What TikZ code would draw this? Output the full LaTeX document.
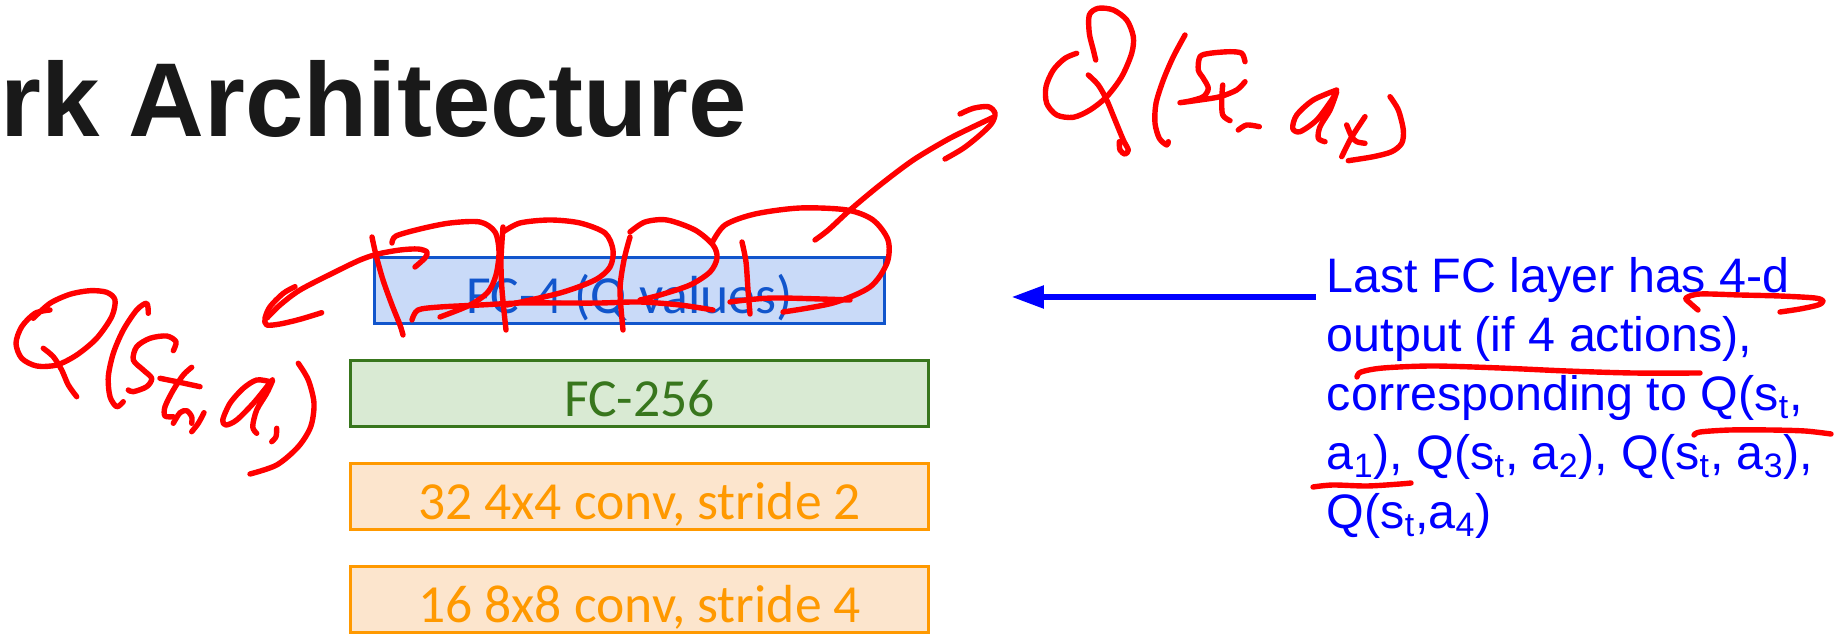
\documentclass[tikz,border=0pt]{standalone}
\usepackage{fontspec}
\setmainfont{Liberation Sans}
\newfontfamily\slidefont{Carlito}
\usepackage{tikz}
\usepackage{xcolor}
\usetikzlibrary{arrows.meta, positioning}
\definecolor{FCBlue}{HTML}{1155CC}
\definecolor{FCBlueFill}{HTML}{C9DAF8}
\definecolor{FCGreen}{HTML}{38761D}
\definecolor{FCGreenFill}{HTML}{D9EAD3}
\definecolor{ConvOrange}{HTML}{FF9900}
\definecolor{ConvOrangeFill}{HTML}{FCE5CD}
\definecolor{NoteBlue}{HTML}{0000FF}
\definecolor{InkRed}{HTML}{FF0000}
\newcommand{\lsub}[1]{\textsubscript{#1}}

\begin{document}
\begin{tikzpicture}[x=0.5pt, y=-0.5pt, node distance=51.5pt, on grid,
    layer/.style={rectangle, draw, line width=1.3pt, minimum width=289pt, minimum height=33pt, inner sep=0pt, text height=23pt, text depth=0pt, font=\slidefont\fontsize{26.8pt}{30pt}\selectfont},
    ink/.style={draw=InkRed, line width=2.7pt, line cap=round, line join=round},
    pointer/.style={draw=NoteBlue, line width=2.6pt, -{Triangle[length=16pt, width=11pt]}}]

        \useasboundingbox (0,0) rectangle (1845,635);

        \node[anchor=base west, inner sep=0pt, text=black!90, font=\bfseries\fontsize{52.5pt}{60pt}\selectfont] (title) at (0,137) {rk Architecture};

        \node[layer, draw=ConvOrange, fill=ConvOrangeFill, text=ConvOrange] (conv16) at (639.5,599.5) {16 8x8 conv, stride 4};

        \node[layer, draw=ConvOrange, fill=ConvOrangeFill, text=ConvOrange, above=of conv16] (conv32) {32 4x4 conv, stride 2};

        \node[layer, draw=FCGreen, fill=FCGreenFill, text=FCGreen, above=of conv32] (fc256) {FC-256};

        \node[layer, draw=FCBlue, fill=FCBlueFill, text=FCBlue, minimum width=255pt, above=of fc256, xshift=-5pt] (fc4) {FC-4 (Q values)};

        \node[anchor=north west, align=left, inner sep=0pt, text=NoteBlue, font=\fontsize{24.2pt}{29.5pt}\selectfont] (note) at (1326.5,257.3) {Last FC layer has 4-d\\
            output (if 4 actions),\\
            corresponding to Q(s\lsub{t},\\
            a\lsub{1}), Q(s\lsub{t}, a\lsub{2}), Q(s\lsub{t}, a\lsub{3}),\\
            Q(s\lsub{t},a\lsub{4})};

        \coordinate (tail) at ([xshift=-5.25pt, yshift=-19.85pt]note.north west);
        \coordinate (head) at ([xshift=63pt]fc4.east);

        \draw[pointer] (tail) -- (tail -| head);

        % Q(s_t, a_4)
        \draw[ink] plot[smooth] coordinates {(1076.7,53.3) (1065,58.3) (1053.3,70) (1046,86.7) (1046.7,103.3) (1056.7,115) (1073.3,117.3) (1090,110) (1106.7,96.7) (1121.7,76.7) (1131.7,53.3) (1133.3,36.7) (1126.7,20) (1113.3,10) (1098.3,8.3) (1089.3,15) (1089.3,33.3) (1093.3,50) (1095.7,60)};
        \draw[ink] plot[smooth] coordinates {(1088.3,75) (1098.3,85) (1106.7,100) (1115,120) (1123.3,140) (1128.3,150) (1125,154) (1120,150) (1119.3,141.7)};
        \draw[ink] plot[smooth] coordinates {(1185,35) (1173.3,56.7) (1163.3,80) (1156,103.3) (1155,123.3) (1159.3,138.3) (1166.7,145) (1168.3,141.7)};
        \draw[ink] plot[smooth] coordinates {(1245,61.7) (1241.7,53.3) (1230,51.7) (1210,53.3) (1200,56.7) (1198.3,70) (1203.3,78.3) (1208.3,88.3) (1203.3,96.7) (1190,101) (1180,102.7) (1200,100) (1220,96.7) (1236.7,90) (1245,81.7)};
        \draw[ink] plot[smooth] coordinates {(1222.7,85) (1221.7,100) (1222.7,115) (1230,120.7)};
        \draw[ink] plot[smooth] coordinates {(1238.3,130) (1246.7,125) (1259.3,126.7)};
        \draw[ink] plot[smooth] coordinates {(1336.7,90) (1313.3,100) (1296.7,115) (1292.7,128.3) (1300,131.7) (1316.7,120) (1331.7,100) (1336.7,91.7) (1330,110) (1320,126.7) (1318.3,138.3) (1325,141.7)};
        \draw[ink] plot[smooth] coordinates {(1365,116.7) (1358.3,126.7) (1350,140) (1341.7,156.7)};
        \draw[ink] plot[smooth] coordinates {(1346.7,125) (1351.7,136.7) (1356.7,141.7) (1365,143.3)};
        \draw[ink] plot[smooth] coordinates {(1390,96.7) (1398.3,110) (1403.3,130) (1401.7,143.3) (1391.7,151.7) (1373.3,156.7) (1348.3,160.7)};

        % arrow up to Q(s_t, a_4)
        \draw[ink] plot[smooth] coordinates {(815,240) (828.3,230) (850,210) (880,185) (913.3,160) (946.7,140) (970,128.3) (993.3,117.3)};
        \draw[ink] plot[smooth] coordinates {(960,114) (973.3,108.3) (988.3,106.7) (995,113.3) (991.7,123.3) (980,135) (963.3,148.3) (945,159)};

        % loops over FC-4
        \draw[ink] plot[smooth] coordinates {(372,237) (376,255) (383,280) (392,305) (400,325) (403,335)};
        \draw[ink] plot[smooth] coordinates {(392,243) (396,236) (420,229) (450,223) (480,222) (495,232) (499,252) (496,275) (488,292) (470,305) (440,317)};
        \draw[ink] plot[smooth] coordinates {(503,227) (501,260) (502,290) (506,330)};
        \draw[ink] plot[smooth] coordinates {(503,232) (520,223) (550,220) (580,223) (605,233) (613,250) (610,267) (595,280) (560,293) (507,305)};
        \draw[ink] plot[smooth] coordinates {(630,237) (624,260) (620,290) (623,330)};
        \draw[ink] plot[smooth] coordinates {(630,232) (645,222) (667,220) (695,230) (713,245) (717,258) (710,272) (690,285) (660,295) (640,300)};
        \draw[ink] plot[smooth] coordinates {(712,243) (725,225) (755,214) (800,208) (847,210) (873,220) (888,240) (887,263) (870,287) (833,303) (783,312)};
        \draw[ink] plot[smooth] coordinates {(742,242) (746,262) (748,290) (750,314)};
        \draw[ink] plot[smooth] coordinates {(412,320) (418,310) (440,307) (480,305) (520,303) (560,303) (600,303) (640,302) (680,305) (713,310)};
        \draw[ink] plot[smooth] coordinates {(730,302) (773,298) (850,300)};

        % arrow down to Q(s_t, a_1)
        \draw[ink] plot[smooth] coordinates {(415,267) (425,258) (427,252) (418,249) (400,250) (378,254) (360,260) (333,273) (300,290) (280,305) (267,318)};
        \draw[ink] plot[smooth] coordinates {(295,286.7) (283.3,293.3) (270,306.7) (265,318.3) (266.7,325) (280,324) (300,319.3) (321.7,312.7)};

        % Q(s_t, a_1)
        \draw[ink] plot[smooth] coordinates {(50,310) (35,313.3) (21.7,326.7) (16,343.3) (21.7,358.3) (36.7,366) (56.7,365) (76.7,355) (96.7,338.3) (111.7,316.7) (115,300) (106.7,292.3) (90,290.7) (70,294.3) (50,303.3) (33.3,318.3)};
        \draw[ink] plot[smooth] coordinates {(43.3,348.3) (53.3,356.7) (61.7,370) (68.3,385) (76.7,396.7)};
        \draw[ink] plot[smooth] coordinates {(148.3,313.3) (146.7,303.3) (136.7,310) (123.3,330) (113.3,353.3) (108.3,376.7) (110,396.7) (116.7,406.7) (123.3,401.7)};
        \draw[ink] plot[smooth] coordinates {(173.3,350.7) (176,341.7) (166.7,336) (150,338.3) (136.7,346.7) (133.3,360) (143.3,370) (151.7,378.3) (146.7,386.7) (133.3,391.7) (128.3,390)};
        \draw[ink] plot[smooth] coordinates {(160,378.3) (176.7,381.7) (200,386.7)};
        \draw[ink] plot[smooth] coordinates {(191.7,367.3) (183.3,375) (173.3,390) (165,406.7) (165,416) (173.3,416.7)};
        \draw[ink] plot[smooth] coordinates {(173.3,423.3) (180,412.7) (186.7,410.7) (191.7,416.7) (191.7,423.3)};
        \draw[ink] plot[smooth] coordinates {(204,412.7) (198.3,423.3) (191.7,431.7)};
        \draw[ink] plot[smooth] coordinates {(270,381.7) (256.7,380) (243.3,388.3) (230,403.3) (222.7,420) (226,425) (236.7,420) (253.3,403.3) (268.3,385) (272.7,380) (266.7,393.3) (256.7,410) (252.7,426.7) (256.7,433.3)};
        \draw[ink] plot[smooth] coordinates {(276.7,428.3) (276,436.7) (271.7,441.7)};
        \draw[ink] plot[smooth] coordinates {(298.3,363.3) (308.3,380) (314,403.3) (310.7,426.7) (298.3,446.7) (276.7,465) (250,474)};

        % underlines in the note
        \draw[ink] plot[smooth] coordinates {(1698,310) (1690,303) (1686,298) (1700,294) (1740,295) (1780,296) (1815,298) (1823,301) (1818,305) (1800,309) (1780,312)};
        \draw[ink] plot[smooth] coordinates {(1357,377) (1361,372) (1383,368) (1433,366) (1500,368) (1567,371) (1633,373) (1700,373)};
        \draw[ink] plot[smooth] coordinates {(1694,435) (1700,432) (1730,430) (1770,430) (1805,431) (1831,434)};
        \draw[ink] plot[smooth] coordinates {(1313,487) (1333,485) (1367,486) (1400,484) (1411,483)};

    \end{tikzpicture}
\end{document}
